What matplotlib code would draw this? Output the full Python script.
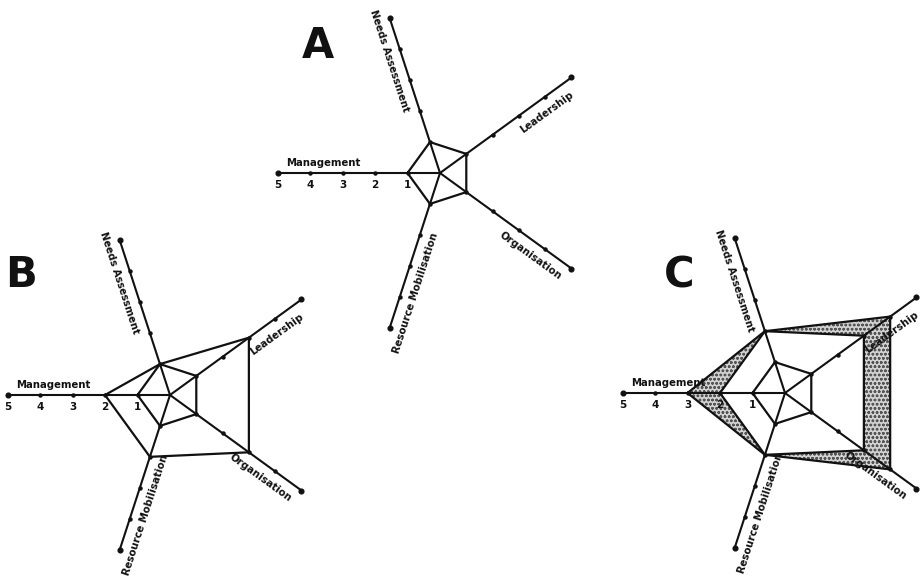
import numpy as np
import matplotlib.pyplot as plt

# five components of the spidergram
names = ["Management", "Needs Assessment", "Leadership", "Organisation", "Resource Mobilisation"]
levels = [1, 2, 3, 4, 5]

# scores per component (same order as names)
base = [1, 1, 1, 1, 1]
b_score = [2, 1, 3, 3, 2]
c_before = [2, 2, 3, 3, 2]
c_after = [3, 2, 4, 4, 2]

panels = {
    "A": [base],
    "B": [base, b_score],
    "C": [base, c_before, c_after],
}

W, H = 921, 587
unit = 32.5  # pixels per level
angles = np.deg2rad([180, 108, 36, -36, -108])

fig = plt.figure(figsize=(W / 100, H / 100), dpi=100)
fig.patch.set_facecolor("white")
plt.rcParams["hatch.linewidth"] = 0.7


def spider(cx, cy, letter, letter_xy, profiles, shade=False):
    half = 6 * unit
    ax = fig.add_axes([(cx - half) / W, 1 - (cy + half) / H, 2 * half / W, 2 * half / H])
    ax.set_xlim(-6, 6)
    ax.set_ylim(-6, 6)
    ax.axis("off")

    ux, uy = np.cos(angles), np.sin(angles)

    # stippled area between the last two profiles
    if shade:
        outer, inner = np.array(profiles[-1]), np.array(profiles[-2])
        ax.fill(outer * ux, outer * uy, facecolor="#d2d2d2", edgecolor="#555555",
                hatch="oooo", linewidth=0, zorder=1)
        ax.fill(inner * ux, inner * uy, facecolor="white", linewidth=0, zorder=1.5)

    # axes with level dots
    lv = np.array(levels)
    for k in range(len(names)):
        ax.plot([0, 5 * ux[k]], [0, 5 * uy[k]], color="#111111", lw=1.5, zorder=2, clip_on=False)
        ax.plot(lv[:-1] * ux[k], lv[:-1] * uy[k], "o", color="#111111", ms=2.2, zorder=3)
        ax.plot(5 * ux[k], 5 * uy[k], "o", color="#111111", ms=3.4, zorder=3)

    # profile polygons
    for p in profiles:
        p = np.array(p + p[:1])
        ux_c = np.append(ux, ux[0])
        uy_c = np.append(uy, uy[0])
        ax.plot(p * ux_c, p * uy_c, color="#111111", lw=1.6, zorder=4, clip_on=False)

    # numbers below the Management axis
    for v in levels:
        ax.text(-v, -0.38, str(v), ha="center", va="center", fontsize=7.5,
                fontweight="bold", color="#111111", zorder=6)

    # component labels along their axes
    for k, name in enumerate(names):
        th = np.rad2deg(angles[k])
        rot = th
        if rot > 90:
            rot -= 180
        elif rot < -90:
            rot += 180
        if k == 0:
            r, d, nang = 3.6, 0.3, 90
        else:
            r, d, nang = 3.75, 0.42, rot - 90
        x = r * ux[k] + d * np.cos(np.deg2rad(nang))
        y = r * uy[k] + d * np.sin(np.deg2rad(nang))
        ax.text(x, y, name, rotation=rot, rotation_mode="anchor", ha="center", va="center",
                fontsize=7.3, fontweight="bold", color="#111111", zorder=6)

    ax.text(letter_xy[0], letter_xy[1], letter, ha="center", va="center",
            fontsize=30, fontweight="heavy", color="#111111")
    return ax


spider(440, 173, "A", (-3.75, 3.9), panels["A"])
spider(170, 395, "B", (-4.6, 3.7), panels["B"])
spider(785, 393, "C", (-3.25, 3.6), panels["C"], shade=True)

fig.savefig("out.png", dpi=100, facecolor="white")
